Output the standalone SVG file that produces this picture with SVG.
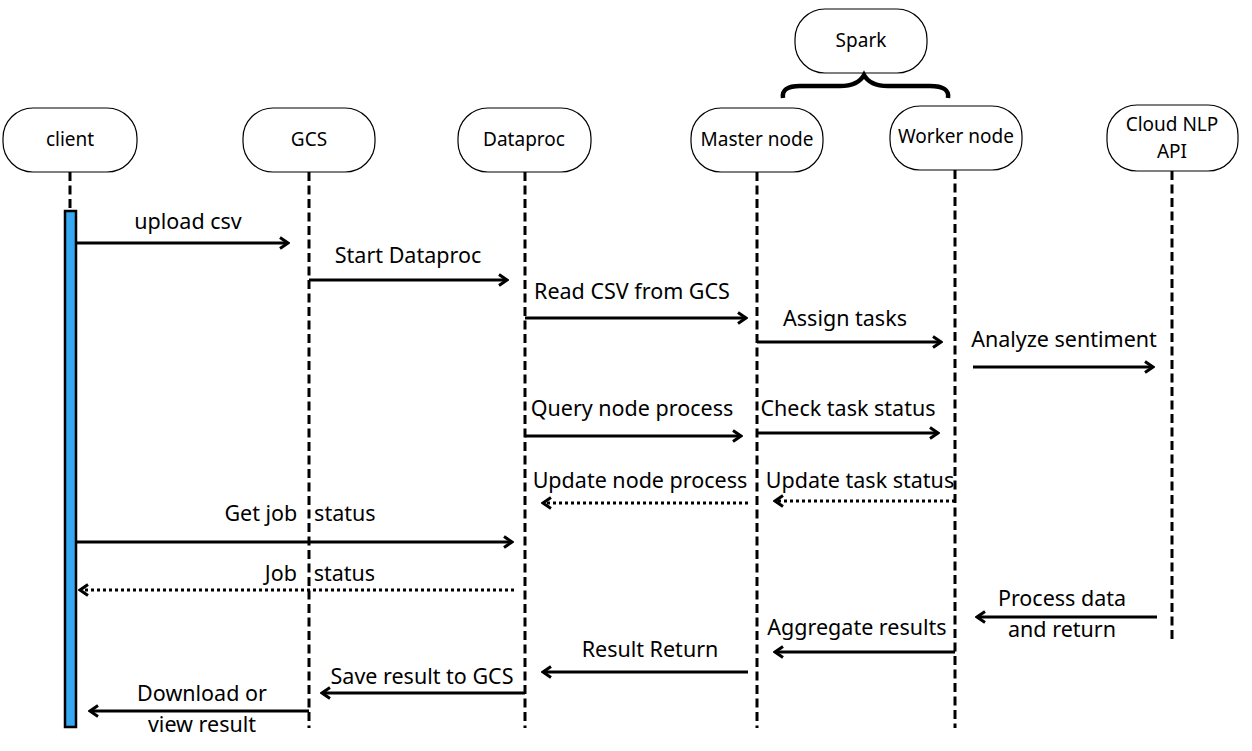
<svg xmlns="http://www.w3.org/2000/svg" width="1252" height="751" viewBox="0 0 1252 751">
<defs>
<style>
.node{fill:#fff;stroke:#000;stroke-width:1.2}
.nl{font-family:"Noto Sans","Open Sans",sans-serif;font-size:19px;fill:#000;text-anchor:middle}
.life{stroke:#000;stroke-width:3;stroke-dasharray:9 4.5;fill:none}
.msg{stroke:#000;stroke-width:3;fill:none}
.ret{stroke:#000;stroke-width:3;fill:none;stroke-dasharray:3 3}
.lbl{font-family:"Noto Sans","Open Sans",sans-serif;font-size:21.5px;fill:#000;text-anchor:middle;white-space:pre}
</style>
<marker id="arr" markerWidth="12" markerHeight="14" refX="10" refY="7" orient="auto" markerUnits="userSpaceOnUse">
<path d="M2,1.5 L10,7 L2,12.5" fill="none" stroke="#000" stroke-width="3"/>
</marker>
</defs>
<rect width="1252" height="751" fill="#fff"/>

<g id="lifelines">
<line class="life" x1="70" y1="172" x2="70" y2="210"/>
<line class="life" x1="309" y1="172" x2="309" y2="728"/>
<line class="life" x1="525" y1="172" x2="525" y2="728"/>
<line class="life" x1="757" y1="172" x2="757" y2="728"/>
<line class="life" x1="955" y1="170" x2="955" y2="728"/>
<line class="life" x1="1172" y1="171" x2="1172" y2="642"/>
</g>

<g id="client">
<rect class="node" x="3" y="108" width="134" height="64" rx="30"/>
<text class="nl" x="70" y="146">client</text>
<rect x="65" y="211" width="11" height="516" fill="#36A9F2" stroke="#000" stroke-width="2.5"/>
</g>
<g id="gcs">
<rect class="node" x="243" y="108" width="132" height="64" rx="30"/>
<text class="nl" x="309" y="146">GCS</text>
</g>
<g id="dataproc">
<rect class="node" x="458" y="108" width="133" height="64" rx="30"/>
<text class="nl" x="524" y="146">Dataproc</text>
</g>
<g id="master">
<rect class="node" x="691" y="108" width="132" height="64" rx="30"/>
<text class="nl" x="757" y="146">Master node</text>
</g>
<g id="worker">
<rect class="node" x="890" y="106" width="132" height="64" rx="30"/>
<text class="nl" x="956" y="143">Worker node</text>
</g>
<g id="nlp">
<rect class="node" x="1107" y="105" width="131" height="66" rx="30"/>
<text class="nl" x="1172" y="131">Cloud NLP</text>
<text class="nl" x="1172" y="158">API</text>
</g>
<g id="spark">
<rect class="node" x="795" y="9" width="132" height="64" rx="30"/>
<text class="nl" x="861" y="47">Spark</text>
<path d="M783,98 Q781,86 800,86 L840,86 Q858,86 864,75 Q870,86 888,86 L930,86 Q950,86 948,98" fill="none" stroke="#000" stroke-width="4.5"/>
</g>

<g id="connectors">
<line class="msg" x1="77" y1="243" x2="288" y2="243" marker-end="url(#arr)"/>
<line class="msg" x1="309" y1="280" x2="507" y2="280" marker-end="url(#arr)"/>
<line class="msg" x1="525" y1="318" x2="746" y2="318" marker-end="url(#arr)"/>
<line class="msg" x1="757" y1="342" x2="941" y2="342" marker-end="url(#arr)"/>
<line class="msg" x1="973" y1="367" x2="1153" y2="367" marker-end="url(#arr)"/>
<line class="msg" x1="525" y1="436" x2="741" y2="436" marker-end="url(#arr)"/>
<line class="msg" x1="757" y1="433" x2="938" y2="433" marker-end="url(#arr)"/>
<line class="ret" x1="748" y1="503" x2="543" y2="503" marker-end="url(#arr)"/>
<line class="ret" x1="955" y1="501" x2="775" y2="501" marker-end="url(#arr)"/>
<line class="msg" x1="77" y1="542" x2="512" y2="542" marker-end="url(#arr)"/>
<line class="ret" x1="514" y1="590" x2="80" y2="590" marker-end="url(#arr)"/>
<line class="msg" x1="1157" y1="617" x2="977" y2="617" marker-end="url(#arr)"/>
<line class="msg" x1="955" y1="652" x2="775" y2="652" marker-end="url(#arr)"/>
<line class="msg" x1="748" y1="672" x2="543" y2="672" marker-end="url(#arr)"/>
<line class="msg" x1="525" y1="693" x2="322" y2="693" marker-end="url(#arr)"/>
<line class="msg" x1="309" y1="711" x2="90" y2="711" marker-end="url(#arr)"/>
</g>

<g id="labels">
<text class="lbl" x="188" y="229">upload csv</text>
<text class="lbl" x="408" y="263">Start Dataproc</text>
<text class="lbl" x="632" y="299">Read CSV from GCS</text>
<text class="lbl" x="845" y="326">Assign tasks</text>
<text class="lbl" x="1064" y="347">Analyze sentiment</text>
<text class="lbl" x="632" y="416">Query node process</text>
<text class="lbl" x="848" y="416">Check task status</text>
<text class="lbl" x="640" y="488">Update node process</text>
<text class="lbl" x="860" y="488">Update task status</text>
<text class="lbl" x="300" y="521">Get job   status</text>
<text class="lbl" x="320" y="581">Job   status</text>
<text class="lbl" x="1062" y="606">Process data</text>
<text class="lbl" x="1062" y="637">and return</text>
<text class="lbl" x="857" y="635">Aggregate results</text>
<text class="lbl" x="650" y="657">Result Return</text>
<text class="lbl" x="422" y="684">Save result to GCS</text>
<text class="lbl" x="202" y="701">Download or</text>
<text class="lbl" x="202" y="732">view result</text>
</g>
</svg>
